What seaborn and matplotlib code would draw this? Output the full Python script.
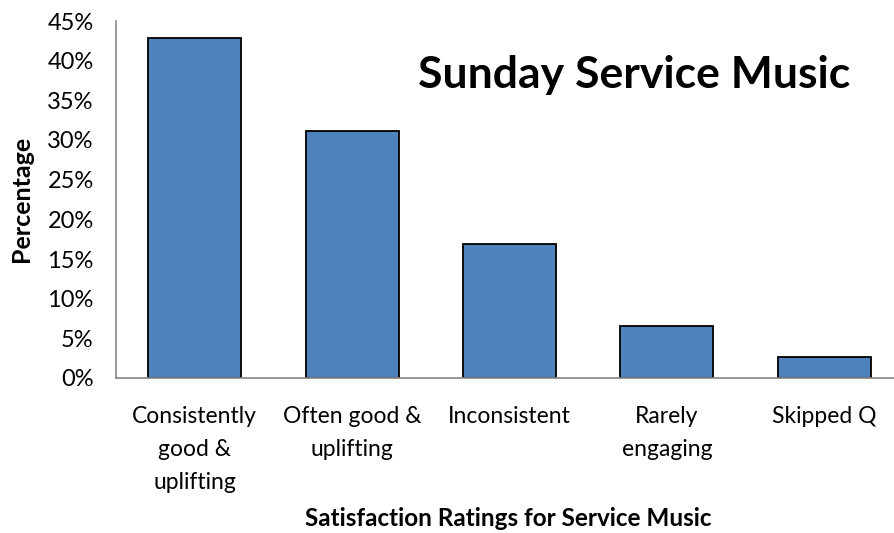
import matplotlib
matplotlib.use("Agg")
import matplotlib.pyplot as plt
import matplotlib.ticker as mticker
import seaborn as sns
import pandas as pd

# data
categories = ["Consistently\ngood &\nuplifting", "Often good &\nuplifting", "Inconsistent",
              "Rarely\nengaging", "Skipped Q"]
percentages = [42.8, 31.1, 16.9, 6.6, 2.6]
y_ticks = [0, 5, 10, 15, 20, 25, 30, 35, 40, 45]

df = pd.DataFrame({"Rating": categories, "Percentage": percentages})

sns.set_style("white")
plt.rcParams["font.family"] = ["Lato", "DejaVu Sans"]
plt.rcParams["text.color"] = "black"
plt.rcParams["xtick.color"] = "black"
plt.rcParams["ytick.color"] = "black"

W, H = 895, 533
fig = plt.figure(figsize=(W / 100, H / 100), dpi=100)
ax = fig.add_axes([116 / W, 1 - 378 / H, 787 / W, 357 / H])

sns.barplot(data=df, x="Rating", y="Percentage", color="#4F81BD", width=0.59,
            edgecolor="black", linewidth=1.3, saturation=1, ax=ax)

ax.set_xlim(-0.5, len(categories) - 0.5)
ax.set_ylim(0, 45)
ax.set_yticks(y_ticks)
ax.yaxis.set_major_formatter(mticker.FuncFormatter(lambda v, p: f"{int(v)}%"))

# tick marks between categories
ax.set_xticks([i - 0.5 for i in range(len(categories) + 1)], minor=True)
ax.tick_params(axis="x", which="major", length=0, labelsize=16.5, pad=20)
ax.tick_params(axis="x", which="minor", length=7, color="#868686", width=1, direction="out")
ax.tick_params(axis="y", length=6, color="#868686", width=1, direction="out", labelsize=17,
               labelcolor="black", pad=10)
for lab in ax.get_xticklabels():
    lab.set_linespacing(1.7)
    lab.set_verticalalignment("top")
    lab.set_color("black")

for s in ["top", "right"]:
    ax.spines[s].set_visible(False)
for s in ["left", "bottom"]:
    ax.spines[s].set_color("#868686")
    ax.spines[s].set_linewidth(1.2)

ax.set_xlabel("")
ax.set_ylabel("")
fig.text(22 / W, 1 - 199 / H, "Percentage", rotation=90, ha="center", va="center",
         fontsize=18, fontweight="bold")
fig.text(508 / W, 1 - 518 / H, "Satisfaction Ratings for Service Music", ha="center",
         va="center", fontsize=17.5, fontweight="bold")
fig.text(634 / W, 1 - 75 / H, "Sunday Service Music", ha="center", va="center",
         fontsize=32, fontweight="bold")

fig.savefig("out.png", dpi=100)
